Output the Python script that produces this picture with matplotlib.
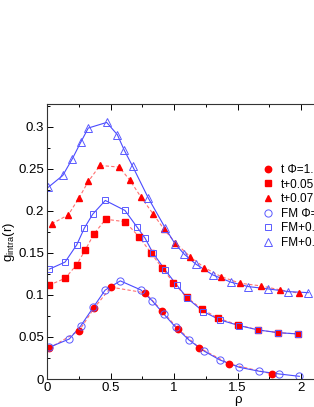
import matplotlib
matplotlib.use('Agg')
import matplotlib.pyplot as plt
from matplotlib.ticker import MultipleLocator, FuncFormatter

plt.rcParams['font.family'] = ['Liberation Sans', 'DejaVu Sans']
plt.rcParams['mathtext.fontset'] = 'custom'
plt.rcParams['mathtext.rm'] = 'Liberation Sans'

# t, Phi = 1 (red filled circles)
t1_x = [0.016, 0.254, 0.370, 0.504, 0.774, 0.906, 1.03, 1.197, 1.435, 1.774]
t1_y = [0.0365, 0.0575, 0.0842, 0.1092, 0.1024, 0.081, 0.060, 0.0373, 0.0179, 0.006]
# FM, Phi = 1 (blue open circles)
fm1_x = [0.018, 0.176, 0.265, 0.365, 0.457, 0.577, 0.738, 0.827, 0.921, 1.013,
         1.118, 1.239, 1.362, 1.514, 1.672, 1.827, 1.987]
fm1_y = [0.0377, 0.0476, 0.063, 0.0853, 0.1056, 0.1167, 0.106, 0.0932, 0.077, 0.0615,
         0.0464, 0.033, 0.0226, 0.0139, 0.0092, 0.006, 0.0032]

# t + 0.05 (red filled squares)
t2_x = [0.016, 0.144, 0.234, 0.302, 0.370, 0.462, 0.614, 0.724, 0.816, 0.908, 0.995,
        1.10, 1.218, 1.349, 1.506, 1.664, 1.816, 1.974]
t2_y = [0.1115, 0.1198, 0.136, 0.1536, 0.1726, 0.190, 0.187, 0.1694, 0.1504, 0.1318, 0.1147,
        0.0972, 0.0833, 0.0722, 0.0643, 0.0583, 0.0551, 0.0536]
# FM + 0.05 (blue open squares)
fm2_x = [0.018, 0.142, 0.234, 0.294, 0.360, 0.459, 0.614, 0.706, 0.772, 0.832, 0.929, 1.021,
         1.105, 1.231, 1.362, 1.514, 1.664, 1.821, 1.974]
fm2_y = [0.1306, 0.139, 0.1595, 0.1794, 0.196, 0.2123, 0.2004, 0.1813, 0.1675, 0.1504, 0.1298, 0.1119,
         0.096, 0.0802, 0.0702, 0.0635, 0.0583, 0.0551, 0.0536]

# t + 0.07 (red filled triangles)
t3_x = [0.037, 0.168, 0.254, 0.325, 0.417, 0.569, 0.654, 0.740, 0.837, 0.921, 1.008,
        1.126, 1.239, 1.370, 1.520, 1.685, 1.835, 1.987]
t3_y = [0.1845, 0.1952, 0.2158, 0.2349, 0.2539, 0.252, 0.2361, 0.2163, 0.196, 0.1782, 0.1623,
        0.1456, 0.1325, 0.1218, 0.1139, 0.1107, 0.106, 0.102]
# FM + 0.07 (blue open triangles)
fm3_x = [0.010, 0.124, 0.200, 0.265, 0.325, 0.470, 0.554, 0.609, 0.675, 0.798, 0.929,
         1.008, 1.081, 1.173, 1.305, 1.449, 1.585, 1.743, 1.900, 2.058]
fm3_y = [0.228, 0.242, 0.262, 0.2813, 0.2984, 0.3051, 0.2905, 0.2718, 0.2527, 0.2151, 0.1801,
         0.1607, 0.1484, 0.1365, 0.1238, 0.1151, 0.1099, 0.1071, 0.1039, 0.1027]

labels = ['t \u03a6=1.0', 't+0.05', 't+0.07', 'FM \u03a6=1.0', 'FM+0.05', 'FM+0.07']

red = '#ff0000'
red_line = '#ff7070'
blue = '#5a5aff'
blue_line = '#4a4aff'

fig = plt.figure(figsize=(3.14, 4.07), dpi=100)
ax = fig.add_axes([47 / 314, 28 / 407, 3.0 * 127 / 314, 275 / 407])

# curves
for x, y in [(t1_x, t1_y), (t2_x, t2_y), (t3_x, t3_y)]:
    ax.plot(x, y, color=red_line, lw=0.8, ls=(0, (3, 2)))
for x, y in [(fm1_x, fm1_y), (fm2_x, fm2_y), (fm3_x, fm3_y)]:
    ax.plot(x, y, color=blue_line, lw=0.8)

# markers
ax.plot(t1_x, t1_y, 'o', ls='none', color=red, ms=4.6, label=labels[0])
ax.plot(t2_x, t2_y, 's', ls='none', color=red, ms=4.0, label=labels[1])
ax.plot(t3_x, t3_y, '^', ls='none', color=red, ms=4.8, label=labels[2])
ax.plot(fm1_x, fm1_y, 'o', ls='none', mfc='none', mec=blue, mew=0.7, ms=5.2, label=labels[3])
ax.plot(fm2_x, fm2_y, 's', ls='none', mfc='none', mec=blue, mew=0.7, ms=4.5, label=labels[4])
ax.plot(fm3_x, fm3_y, '^', ls='none', mfc='none', mec=blue, mew=0.7, ms=5.2, label=labels[5])

ax.set_xlim(0, 3.0)
ax.set_ylim(0, 0.327)

ax.xaxis.set_major_locator(MultipleLocator(0.5))
ax.xaxis.set_minor_locator(MultipleLocator(0.25))
ax.yaxis.set_major_locator(MultipleLocator(0.05))
ax.yaxis.set_minor_locator(MultipleLocator(0.025))
ax.xaxis.set_major_formatter(FuncFormatter(lambda v, p: '%g' % round(v, 3) if v < 2.2 else ''))
ax.yaxis.set_major_formatter(FuncFormatter(lambda v, p: '%g' % round(v, 3)))
ax.tick_params(which='both', direction='in', top=True, right=True, labelsize=9.5, width=0.7, pad=2)
ax.tick_params(which='major', length=4)
ax.tick_params(which='minor', length=2.2)
for s in ax.spines.values():
    s.set_linewidth(0.8)
    s.set_color('#333333')

ax.set_xlabel('\u03c1', fontsize=9.5, labelpad=0)
ax.set_ylabel('g$_{\\rm intra}$(r)', fontsize=9.5)
ax.yaxis.set_label_coords(-0.079, 0.5)

ax.legend(loc='upper left', bbox_to_anchor=(263 / 314, 1 - 164 / 407), bbox_transform=fig.transFigure,
          frameon=False, fontsize=8.5, handlelength=0.8, handletextpad=0.7, labelspacing=0.22,
          borderpad=0, borderaxespad=0)

plt.savefig('out.png', dpi=100)
